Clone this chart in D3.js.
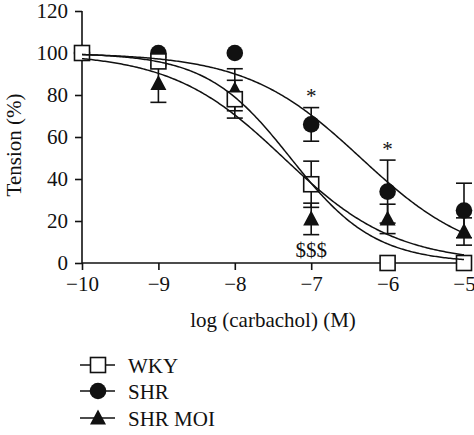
<!DOCTYPE html>
<html><head><meta charset="utf-8">
<script src="https://cdn.jsdelivr.net/npm/d3@7"></script>
<style>
html,body{margin:0;padding:0;background:#fff;}
</style>
</head><body>
<svg id="chart" width="474" height="435"></svg>
<script>
// ---- data ----
const logConc = [-10, -9, -8, -7, -6, -5];
const seriesNames = ["WKY", "SHR", "SHR MOI"];
const wkyMean  = [100, 96, 78, 37.5, 0, 0];
const wkyErr   = [0, 2, 9, 11, 0, 0];
const shrMean  = [100, 100, 100, 66, 34, 25];
const shrErr   = [0, 0, 0, 8, 15, 13];
const moiMean  = [100, 85.5, 82.5, 21, 21, 15];
const moiErr   = [0, 9, 10, 7.5, 7, 6.5];
// fitted sigmoid curves (top, bottom, logEC50, hill slope) per series
const fitTop     = [100, 100, 100];
const fitBottom  = [0, 0, 0];
const fitLogEC50 = [-7.27, -6.35, -7.36];
const fitHill    = [0.787, 0.579, 0.591];
const xTicks = [-10, -9, -8, -7, -6, -5];
const yTicks = [0, 20, 40, 60, 80, 100, 120];
const starPositions = [-7, -6];
const starValues = [76, 51];
const dollarPos = [-7];
const dollarValue = [3];

const FONT = '"Liberation Serif", "DejaVu Serif", "Times New Roman", serif';
const svg = d3.select("#chart");
const x = d3.scaleLinear().domain([-10, -5]).range([82, 464]);
const y = d3.scaleLinear().domain([0, 120]).range([263, 11]);
const FS = 21;

const series = [
  {name: seriesNames[0], mean: wkyMean, err: wkyErr, sym: "square"},
  {name: seriesNames[1], mean: shrMean, err: shrErr, sym: "circle"},
  {name: seriesNames[2], mean: moiMean, err: moiErr, sym: "triangle"}
];

function txt(sel) {
  return sel.attr("font-family", FONT).style("font-family", FONT)
    .style("font-size", FS + "px").attr("fill", "#111");
}

// axes
const xAxis = d3.axisBottom(x).tickValues(xTicks).tickSize(7).tickPadding(6)
  .tickFormat(d => String(d).replace("-", "\u2212"));
const yAxis = d3.axisLeft(y).tickValues(yTicks).tickSize(7).tickPadding(7);
const gx = svg.append("g").attr("transform", `translate(0,${y(0)})`).call(xAxis);
const gy = svg.append("g").attr("transform", `translate(${x(-10)},0)`).call(yAxis);
[gx, gy].forEach(g => {
  g.attr("font-family", FONT);
  g.selectAll("line").attr("stroke", "#111").attr("stroke-width", 1.6);
  g.select(".domain").remove();
  txt(g.selectAll("text"));
});
svg.append("line").attr("x1", x(-10)).attr("x2", x(-5)).attr("y1", y(0)).attr("y2", y(0))
  .attr("stroke", "#111").attr("stroke-width", 1.6);
svg.append("line").attr("x1", x(-10)).attr("x2", x(-10)).attr("y1", y(0)).attr("y2", y(120))
  .attr("stroke", "#111").attr("stroke-width", 1.6);

// axis titles
txt(svg.append("text").attr("x", x(-7.5)).attr("y", 327).attr("text-anchor", "middle"))
  .text("log (carbachol) (M)");
txt(svg.append("text").attr("transform", `translate(21,${y(60) + 8}) rotate(-90)`)
  .attr("text-anchor", "middle")).text("Tension (%)");

// error bars
const capW = 8;
series.forEach(s => {
  const g = svg.append("g");
  logConc.forEach((c, i) => {
    if (!s.err[i]) return;
    const cx = x(c), hi = y(s.mean[i] + s.err[i]), lo = y(Math.max(0, s.mean[i] - s.err[i]));
    g.append("line").attr("x1", cx).attr("x2", cx).attr("y1", hi).attr("y2", lo)
      .attr("stroke", "#111").attr("stroke-width", 1.6);
    [hi, lo].forEach(yy => g.append("line").attr("x1", cx - capW).attr("x2", cx + capW)
      .attr("y1", yy).attr("y2", yy).attr("stroke", "#111").attr("stroke-width", 1.6));
  });
});

// marker drawing
function drawMarker(g, sym, cx, cy) {
  if (sym === "square") {
    g.append("rect").attr("x", cx - 7.5).attr("y", cy - 7.5).attr("width", 15).attr("height", 15)
      .attr("fill", "#fff").attr("stroke", "#111").attr("stroke-width", 1.6);
  } else if (sym === "circle") {
    g.append("circle").attr("cx", cx).attr("cy", cy).attr("r", 8.3).attr("fill", "#111");
  } else {
    g.append("path").attr("d", `M${cx},${cy - 8.5}L${cx + 8},${cy + 6.5}L${cx - 8},${cy + 6.5}Z`)
      .attr("fill", "#111");
  }
}
[series[2], series[1], series[0]].forEach(s => {
  const g = svg.append("g");
  logConc.forEach((c, i) => drawMarker(g, s.sym, x(c), y(s.mean[i])));
});

// fitted curves
const samples = d3.range(-10, -5.0001, 0.02).concat([-5]);
fitTop.forEach((top, k) => {
  const f = v => fitBottom[k] + (top - fitBottom[k]) / (1 + Math.pow(10, (v - fitLogEC50[k]) * fitHill[k]));
  const line = d3.line().x(v => x(v)).y(v => y(f(v)));
  svg.append("path").attr("d", line(samples)).attr("fill", "none")
    .attr("stroke", "#111").attr("stroke-width", 1.5);
});

// annotations
starPositions.forEach((p, i) => {
  txt(svg.append("text").attr("x", x(p)).attr("y", y(starValues[i])).attr("text-anchor", "middle"))
    .text("*");
});
dollarPos.forEach((p, i) => {
  txt(svg.append("text").attr("x", x(p)).attr("y", y(dollarValue[i])).attr("text-anchor", "middle"))
    .text("$$$");
});

// legend
const legY = [365, 391, 418];
series.forEach((s, i) => {
  const g = svg.append("g");
  g.append("line").attr("x1", 80).attr("x2", 115).attr("y1", legY[i]).attr("y2", legY[i])
    .attr("stroke", "#111").attr("stroke-width", 1.6);
  drawMarker(g, s.sym, 98, legY[i]);
  txt(g.append("text").attr("x", 128).attr("y", legY[i] + 7.5)).text(s.name);
});
</script>
</body></html>
